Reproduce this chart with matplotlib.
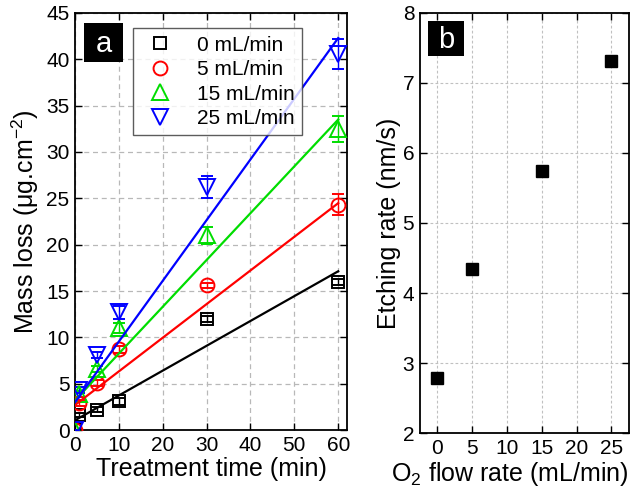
import numpy as np
import matplotlib.pyplot as plt
from matplotlib.lines import Line2D
from matplotlib.patches import Rectangle

plt.rcParams['font.family'] = ['Liberation Sans', 'DejaVu Sans']
plt.rcParams['mathtext.fontset'] = 'custom'
plt.rcParams['mathtext.rm'] = 'Liberation Sans'
plt.rcParams['mathtext.it'] = 'Liberation Sans:italic'

# panel a data
time_min = [0, 1, 5, 10, 30, 60]
labels = ["0 mL/min", "5 mL/min", "15 mL/min", "25 mL/min"]
mass_0 = [0, 1.6, 2.2, 3.1, 12.0, 16.0]
mass_5 = [0, 2.9, 5.1, 8.7, 15.6, 24.3]
mass_15 = [0, 3.9, 6.6, 11.0, 21.0, 32.5]
mass_25 = [0, 4.3, 8.1, 12.7, 26.2, 40.6]
err_0 = [0, 0.2, 0.3, 0.4, 0.3, 0.3]
err_5 = [0, 0.3, 0.3, 0.4, 0.3, 1.15]
err_15 = [0, 0.3, 0.3, 0.5, 0.9, 1.4]
err_25 = [0, 0.3, 0.3, 0.7, 1.2, 1.6]
fit_intercept = [1.05, 2.7, 3.2, 3.0]
fit_slope = [0.268, 0.363, 0.505, 0.655]
fit_range = [0, 60]

# panel b data
flow_rate = [0, 5, 15, 25]
etch_rate = [2.78, 4.34, 5.74, 7.31]

fig = plt.figure(figsize=(6.39, 4.90), dpi=100)
ax1 = fig.add_axes([0.1174, 0.1224, 0.4256, 0.8511])
ax2 = fig.add_axes([0.657, 0.1163, 0.327, 0.8572])

colors = ['black', '#ff0000', '#00dd00', '#0000ff']
markers = ['s', 'o', '^', 'v']
sizes = [8, 10, 11, 11]
series = [mass_0, mass_5, mass_15, mass_25]
errs = [err_0, err_5, err_15, err_25]


def panel_tag(ax, x0, y0, x1, y1, letter):
    # black label box with white letter, in axes fraction
    ax.add_patch(Rectangle((x0, y0), x1 - x0, y1 - y0, transform=ax.transAxes,
                           fc='black', ec='none', zorder=6))
    ax.text((x0 + x1) / 2, (y0 + y1) / 2 - 0.004, letter, transform=ax.transAxes,
            color='white', fontsize=21, ha='center', va='center', zorder=7)


handles = []
for i in range(4):
    ax1.errorbar(time_min, series[i], yerr=errs[i], fmt=markers[i], ms=sizes[i],
                 mfc='none', mec=colors[i], mew=1.4, ecolor=colors[i],
                 elinewidth=1.0, capsize=4, capthick=1.0, zorder=3)
    xs = np.array(fit_range)
    ax1.plot(xs, fit_intercept[i] + fit_slope[i] * xs, color=colors[i], lw=1.6, zorder=4)
    handles.append(Line2D([], [], ls='none', marker=markers[i], ms=sizes[i],
                          mfc='none', mec=colors[i], mew=1.4, label=labels[i]))

ax1.set_xlim(0, 62)
ax1.set_ylim(0, 45)
ax1.set_xticks(range(0, 61, 10))
ax1.set_yticks(range(0, 46, 5))
ax1.set_xlabel("Treatment time (min)", fontsize=18, labelpad=2)
ax1.set_ylabel("Mass loss (μg.cm$^{-2}$)", fontsize=18, labelpad=4)
ax1.grid(True, color='#b8b8b8', linestyle=(0, (4, 3)), lw=0.9)
ax1.set_axisbelow(True)

leg = ax1.legend(handles=handles, loc='upper left', bbox_to_anchor=(0.214, 0.963),
                 borderaxespad=0, fontsize=15, frameon=True, fancybox=False,
                 edgecolor='#333333', labelspacing=0.26, handletextpad=0.8,
                 borderpad=0.35, handlelength=1.9)
leg.get_frame().set_linewidth(1.0)

panel_tag(ax1, 0.033, 0.882, 0.176, 0.976, "a")

ax2.plot(flow_rate, etch_rate, 's', color='black', ms=8.5)
ax2.set_xlim(-2.5, 27.5)
ax2.set_ylim(2, 8)
ax2.set_xticks(range(0, 26, 5))
ax2.set_yticks(range(2, 9, 1))
ax2.set_xlabel("O$_2$ flow rate (mL/min)", fontsize=18)
ax2.xaxis.set_label_coords(0.43, -0.065, transform=ax2.transAxes)
ax2.xaxis.label.set_va('top')
ax2.set_ylabel("Etching rate (nm/s)", fontsize=18, labelpad=1)
ax2.grid(True, color='#c0c0c0', linestyle=(0, (2.5, 2)), lw=0.8)
ax2.set_axisbelow(True)

panel_tag(ax2, 0.038, 0.898, 0.211, 0.981, "b")

for ax in (ax1, ax2):
    ax.tick_params(direction='in', length=5, width=1.0, labelsize=15,
                   top=True, right=True, pad=4)
    for s in ax.spines.values():
        s.set_linewidth(1.3)

fig.savefig("out.png", dpi=100)
